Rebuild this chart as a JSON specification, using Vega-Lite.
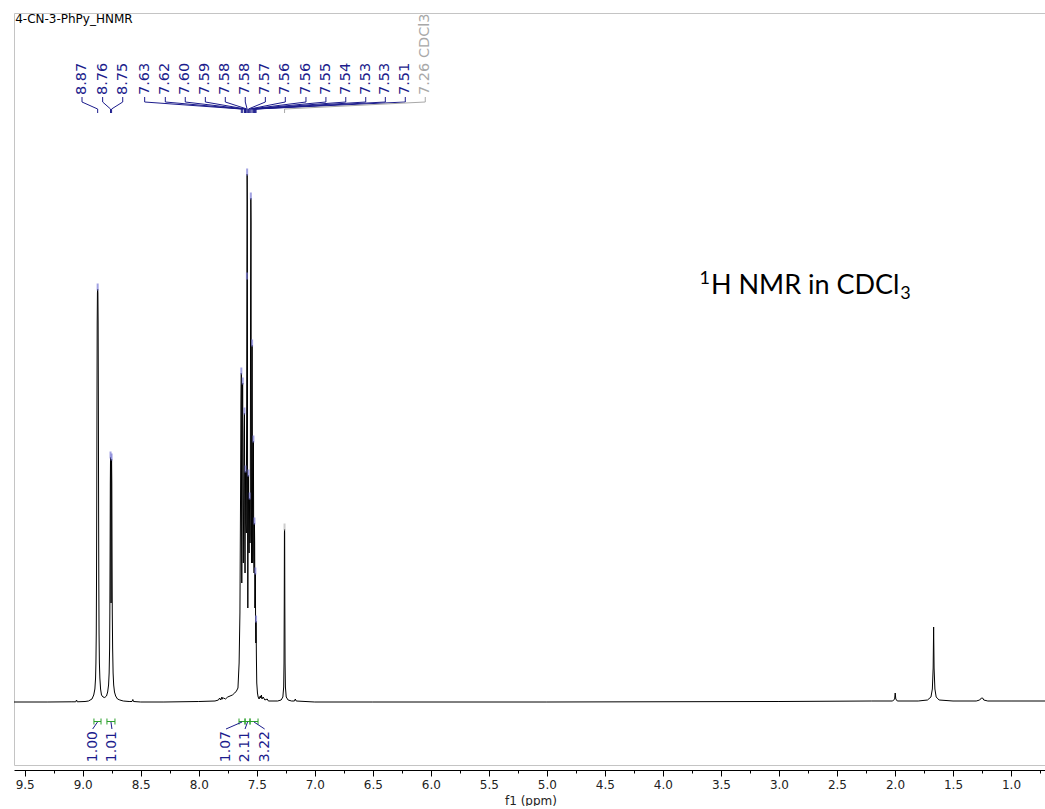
{
  "$schema": "https://vega.github.io/schema/vega-lite/v6.json",
  "width": 1033,
  "height": 752,
  "padding": {"left": 12, "top": 12, "right": 0, "bottom": 0},
  "autosize": {"type": "pad"},
  "background": "white",
  "config": {"view": {"stroke": "#c4c4c4", "strokeWidth": 1}, "font": "DejaVu Sans"},
  "resolve": {"axis": {"x": "independent"}},
  "datasets": {
    "spectrum": [
      {"ppm": 9.592, "i": 1}, {"ppm": 9.3, "i": 1}, {"ppm": 9.1, "i": 1.2}, {"ppm": 9.06, "i": 1.2}, {"ppm": 9.053, "i": 3}, {"ppm": 9.047, "i": 1.2},
      {"ppm": 8.98, "i": 1.5}, {"ppm": 8.95, "i": 2}, {"ppm": 8.92, "i": 4}, {"ppm": 8.905, "i": 8}, {"ppm": 8.895, "i": 14}, {"ppm": 8.889, "i": 25},
      {"ppm": 8.886, "i": 40}, {"ppm": 8.883, "i": 70}, {"ppm": 8.881, "i": 120}, {"ppm": 8.879, "i": 200}, {"ppm": 8.877, "i": 300}, {"ppm": 8.875, "i": 380},
      {"ppm": 8.873, "i": 410}, {"ppm": 8.871, "i": 414}, {"ppm": 8.869, "i": 410}, {"ppm": 8.867, "i": 380}, {"ppm": 8.865, "i": 300}, {"ppm": 8.863, "i": 200},
      {"ppm": 8.861, "i": 120}, {"ppm": 8.859, "i": 70}, {"ppm": 8.856, "i": 40}, {"ppm": 8.852, "i": 25}, {"ppm": 8.846, "i": 14}, {"ppm": 8.838, "i": 8},
      {"ppm": 8.825, "i": 6}, {"ppm": 8.81, "i": 5.5}, {"ppm": 8.795, "i": 7}, {"ppm": 8.785, "i": 11}, {"ppm": 8.777, "i": 18}, {"ppm": 8.772, "i": 30},
      {"ppm": 8.768, "i": 55}, {"ppm": 8.766, "i": 90}, {"ppm": 8.764, "i": 150}, {"ppm": 8.762, "i": 220}, {"ppm": 8.760, "i": 246}, {"ppm": 8.758, "i": 230},
      {"ppm": 8.7555, "i": 100}, {"ppm": 8.753, "i": 230}, {"ppm": 8.751, "i": 244}, {"ppm": 8.749, "i": 220}, {"ppm": 8.747, "i": 150}, {"ppm": 8.745, "i": 90},
      {"ppm": 8.742, "i": 55}, {"ppm": 8.738, "i": 30}, {"ppm": 8.733, "i": 18}, {"ppm": 8.726, "i": 11}, {"ppm": 8.716, "i": 7}, {"ppm": 8.70, "i": 4},
      {"ppm": 8.68, "i": 3}, {"ppm": 8.65, "i": 2}, {"ppm": 8.60, "i": 1.5}, {"ppm": 8.575, "i": 1.5}, {"ppm": 8.568, "i": 3.5}, {"ppm": 8.562, "i": 1.5},
      {"ppm": 8.5, "i": 1}, {"ppm": 8.3, "i": 1}, {"ppm": 8.0, "i": 1.5}, {"ppm": 7.86, "i": 2}, {"ppm": 7.83, "i": 3}, {"ppm": 7.82, "i": 5},
      {"ppm": 7.81, "i": 3}, {"ppm": 7.80, "i": 6}, {"ppm": 7.795, "i": 4}, {"ppm": 7.785, "i": 5}, {"ppm": 7.77, "i": 4}, {"ppm": 7.75, "i": 6},
      {"ppm": 7.73, "i": 7}, {"ppm": 7.71, "i": 8}, {"ppm": 7.69, "i": 10}, {"ppm": 7.675, "i": 12}, {"ppm": 7.662, "i": 15}, {"ppm": 7.652, "i": 40},
      {"ppm": 7.645, "i": 90}, {"ppm": 7.640, "i": 200}, {"ppm": 7.636, "i": 300}, {"ppm": 7.633, "i": 330}, {"ppm": 7.631, "i": 200}, {"ppm": 7.629, "i": 120},
      {"ppm": 7.626, "i": 250}, {"ppm": 7.623, "i": 318}, {"ppm": 7.621, "i": 320}, {"ppm": 7.619, "i": 200}, {"ppm": 7.616, "i": 140}, {"ppm": 7.613, "i": 200},
      {"ppm": 7.609, "i": 270}, {"ppm": 7.606, "i": 290}, {"ppm": 7.603, "i": 160}, {"ppm": 7.601, "i": 130}, {"ppm": 7.599, "i": 200}, {"ppm": 7.597, "i": 232},
      {"ppm": 7.594, "i": 180}, {"ppm": 7.590, "i": 170}, {"ppm": 7.587, "i": 300}, {"ppm": 7.585, "i": 425}, {"ppm": 7.583, "i": 529}, {"ppm": 7.581, "i": 500},
      {"ppm": 7.579, "i": 180}, {"ppm": 7.577, "i": 95}, {"ppm": 7.575, "i": 160}, {"ppm": 7.572, "i": 228}, {"ppm": 7.569, "i": 170}, {"ppm": 7.566, "i": 150},
      {"ppm": 7.563, "i": 190}, {"ppm": 7.561, "i": 205}, {"ppm": 7.558, "i": 160}, {"ppm": 7.556, "i": 170}, {"ppm": 7.553, "i": 420}, {"ppm": 7.551, "i": 505},
      {"ppm": 7.549, "i": 480}, {"ppm": 7.547, "i": 200}, {"ppm": 7.545, "i": 140}, {"ppm": 7.542, "i": 300}, {"ppm": 7.540, "i": 358}, {"ppm": 7.538, "i": 260},
      {"ppm": 7.535, "i": 140}, {"ppm": 7.532, "i": 220}, {"ppm": 7.529, "i": 262}, {"ppm": 7.526, "i": 150}, {"ppm": 7.523, "i": 130}, {"ppm": 7.520, "i": 180},
      {"ppm": 7.518, "i": 160}, {"ppm": 7.516, "i": 95}, {"ppm": 7.514, "i": 110}, {"ppm": 7.512, "i": 130}, {"ppm": 7.510, "i": 80}, {"ppm": 7.508, "i": 60},
      {"ppm": 7.506, "i": 82}, {"ppm": 7.503, "i": 45}, {"ppm": 7.500, "i": 20}, {"ppm": 7.494, "i": 10}, {"ppm": 7.488, "i": 6}, {"ppm": 7.48, "i": 4},
      {"ppm": 7.47, "i": 7}, {"ppm": 7.465, "i": 5}, {"ppm": 7.46, "i": 8}, {"ppm": 7.455, "i": 4}, {"ppm": 7.445, "i": 6}, {"ppm": 7.43, "i": 3},
      {"ppm": 7.41, "i": 4}, {"ppm": 7.40, "i": 2}, {"ppm": 7.36, "i": 2}, {"ppm": 7.32, "i": 2}, {"ppm": 7.29, "i": 3}, {"ppm": 7.275, "i": 6},
      {"ppm": 7.268, "i": 16}, {"ppm": 7.265, "i": 40}, {"ppm": 7.263, "i": 100}, {"ppm": 7.2615, "i": 170}, {"ppm": 7.2605, "i": 174}, {"ppm": 7.2595, "i": 170},
      {"ppm": 7.258, "i": 100}, {"ppm": 7.256, "i": 40}, {"ppm": 7.253, "i": 16}, {"ppm": 7.246, "i": 6}, {"ppm": 7.23, "i": 3}, {"ppm": 7.20, "i": 2},
      {"ppm": 7.175, "i": 2}, {"ppm": 7.168, "i": 4}, {"ppm": 7.16, "i": 2}, {"ppm": 7.0, "i": 1}, {"ppm": 6.5, "i": 1}, {"ppm": 5.0, "i": 1},
      {"ppm": 3.0, "i": 1.5}, {"ppm": 2.2, "i": 2}, {"ppm": 2.02, "i": 2}, {"ppm": 2.003, "i": 4}, {"ppm": 1.998, "i": 10}, {"ppm": 1.993, "i": 4},
      {"ppm": 1.98, "i": 2}, {"ppm": 1.8, "i": 2}, {"ppm": 1.72, "i": 3}, {"ppm": 1.69, "i": 6}, {"ppm": 1.678, "i": 14}, {"ppm": 1.671, "i": 35},
      {"ppm": 1.667, "i": 76}, {"ppm": 1.663, "i": 35}, {"ppm": 1.656, "i": 14}, {"ppm": 1.645, "i": 6}, {"ppm": 1.62, "i": 3}, {"ppm": 1.5, "i": 2},
      {"ppm": 1.3, "i": 2}, {"ppm": 1.27, "i": 3}, {"ppm": 1.255, "i": 5}, {"ppm": 1.245, "i": 5}, {"ppm": 1.235, "i": 3}, {"ppm": 1.2, "i": 2},
      {"ppm": 1.0, "i": 2}, {"ppm": 0.69, "i": 2}
    ],
    "peaks": [
      {"lab": 9.006, "pk": 8.871, "h": 414, "txt": "8.87", "kind": "peak"},
      {"lab": 8.828, "pk": 8.760, "h": 246, "txt": "8.76", "kind": "peak"},
      {"lab": 8.655, "pk": 8.751, "h": 244, "txt": "8.75", "kind": "peak"},
      {"lab": 8.466, "pk": 7.633, "h": 330, "txt": "7.63", "kind": "peak"},
      {"lab": 8.288, "pk": 7.621, "h": 320, "txt": "7.62", "kind": "peak"},
      {"lab": 8.116, "pk": 7.606, "h": 290, "txt": "7.60", "kind": "peak"},
      {"lab": 7.943, "pk": 7.597, "h": 232, "txt": "7.59", "kind": "peak"},
      {"lab": 7.771, "pk": 7.585, "h": 425, "txt": "7.58", "kind": "peak"},
      {"lab": 7.599, "pk": 7.583, "h": 529, "txt": "7.58", "kind": "peak"},
      {"lab": 7.426, "pk": 7.572, "h": 228, "txt": "7.57", "kind": "peak"},
      {"lab": 7.254, "pk": 7.561, "h": 205, "txt": "7.56", "kind": "peak"},
      {"lab": 7.076, "pk": 7.551, "h": 505, "txt": "7.56", "kind": "peak"},
      {"lab": 6.904, "pk": 7.540, "h": 358, "txt": "7.55", "kind": "peak"},
      {"lab": 6.733, "pk": 7.529, "h": 262, "txt": "7.54", "kind": "peak"},
      {"lab": 6.561, "pk": 7.520, "h": 180, "txt": "7.53", "kind": "peak"},
      {"lab": 6.392, "pk": 7.512, "h": 130, "txt": "7.53", "kind": "peak"},
      {"lab": 6.220, "pk": 7.506, "h": 82, "txt": "7.51", "kind": "peak"},
      {"lab": 6.048, "pk": 7.2605, "h": 174, "txt": "7.26 CDCl3", "kind": "solvent"}
    ],
    "integrals": [
      {"s": 8.903, "e": 8.842, "mid": 8.8725, "lab": 8.914, "txt": "1.00"},
      {"s": 8.791, "e": 8.722, "mid": 8.7565, "lab": 8.748, "txt": "1.01"},
      {"s": 7.653, "e": 7.601, "mid": 7.627, "lab": 7.765, "txt": "1.07"},
      {"s": 7.601, "e": 7.558, "mid": 7.5795, "lab": 7.601, "txt": "2.11"},
      {"s": 7.558, "e": 7.489, "mid": 7.5235, "lab": 7.432, "txt": "3.22"}
    ]
  },
  "layer": [
    {
      "data": {"name": "spectrum"},
      "mark": {"type": "line", "color": "black", "strokeWidth": 1},
      "encoding": {
        "x": {
          "field": "ppm", "type": "quantitative",
          "scale": {"domain": [0.69, 9.592], "reverse": true, "nice": false, "zero": false},
          "axis": {
            "orient": "bottom",
            "title": "f1 (ppm)",
            "values": [9.5, 9.0, 8.5, 8.0, 7.5, 7.0, 6.5, 6.0, 5.5, 5.0, 4.5, 4.0, 3.5, 3.0, 2.5, 2.0, 1.5, 1.0],
            "format": ".1f",
            "tickSize": 6,
            "offset": 5,
            "grid": false,
            "domainColor": "black",
            "tickColor": "black",
            "labelColor": "#222222",
            "labelFont": "DejaVu Sans",
            "labelFontSize": 12,
            "labelPadding": 3,
            "labelOverlap": false,
            "labelFlush": false,
            "labelBound": false,
            "titleFont": "DejaVu Sans",
            "titleFontSize": 12,
            "titleFontWeight": "normal",
            "titleColor": "#222222",
            "titlePadding": 5
          }
        },
        "y": {"field": "i", "type": "quantitative", "scale": {"domain": [-62, 690], "nice": false, "zero": false}, "axis": null}
      }
    },
    {
      "data": {"name": "peaks"},
      "mark": {"type": "tick", "orient": "vertical", "size": 7, "thickness": 2, "yOffset": -2},
      "encoding": {
        "x": {
          "field": "pk", "type": "quantitative",
          "axis": {
            "orient": "bottom",
            "title": null,
            "values": [9.25, 8.75, 8.25, 7.75, 7.25, 6.75, 6.25, 5.75, 5.25, 4.75, 4.25, 3.75, 3.25, 2.75, 2.25, 1.75, 1.25, 0.75],
            "labels": false,
            "domain": false,
            "grid": false,
            "tickSize": 3,
            "tickColor": "black",
            "offset": 5
          }
        },
        "y": {"field": "h", "type": "quantitative"},
        "color": {"condition": {"test": "datum.kind == 'solvent'", "value": "#b8b8b8"}, "value": "#7b7bd6"}
      }
    },
    {
      "data": {"name": "peaks"},
      "mark": {"type": "rule", "strokeWidth": 1},
      "encoding": {
        "x": {"field": "lab", "type": "quantitative", "axis": null},
        "y": {"datum": 606, "type": "quantitative"},
        "y2": {"datum": 601},
        "color": {"condition": {"test": "datum.kind == 'solvent'", "value": "#a8a8a8"}, "value": "#1c1c8c"}
      }
    },
    {
      "data": {"name": "peaks"},
      "mark": {"type": "rule", "strokeWidth": 1},
      "encoding": {
        "x": {"field": "lab", "type": "quantitative", "axis": null},
        "x2": {"field": "pk"},
        "y": {"datum": 601, "type": "quantitative"},
        "y2": {"datum": 594},
        "color": {"condition": {"test": "datum.kind == 'solvent'", "value": "#a8a8a8"}, "value": "#1c1c8c"}
      }
    },
    {
      "data": {"name": "peaks"},
      "mark": {"type": "rule", "strokeWidth": 1},
      "encoding": {
        "x": {"field": "pk", "type": "quantitative", "axis": null},
        "y": {"datum": 594, "type": "quantitative"},
        "y2": {"datum": 590},
        "color": {"condition": {"test": "datum.kind == 'solvent'", "value": "#a8a8a8"}, "value": "#1c1c8c"}
      }
    },
    {
      "data": {"name": "peaks"},
      "mark": {"type": "text", "angle": 270, "align": "left", "baseline": "middle", "font": "DejaVu Sans", "fontSize": 14.5},
      "encoding": {
        "x": {"field": "lab", "type": "quantitative", "axis": null},
        "y": {"datum": 608, "type": "quantitative"},
        "text": {"field": "txt"},
        "color": {"condition": {"test": "datum.kind == 'solvent'", "value": "#a8a8a8"}, "value": "#1c1c8c"}
      }
    },
    {
      "data": {"name": "integrals"},
      "mark": {"type": "rule", "color": "#2ca02c", "strokeWidth": 1},
      "encoding": {
        "x": {"field": "s", "type": "quantitative", "axis": null},
        "x2": {"field": "e"},
        "y": {"datum": -18.5, "type": "quantitative"}
      }
    },
    {
      "data": {"name": "integrals"},
      "mark": {"type": "rule", "color": "#2ca02c", "strokeWidth": 1},
      "encoding": {
        "x": {"field": "s", "type": "quantitative", "axis": null},
        "y": {"datum": -15.5, "type": "quantitative"},
        "y2": {"datum": -21.5}
      }
    },
    {
      "data": {"name": "integrals"},
      "mark": {"type": "rule", "color": "#2ca02c", "strokeWidth": 1},
      "encoding": {
        "x": {"field": "e", "type": "quantitative", "axis": null},
        "y": {"datum": -15.5, "type": "quantitative"},
        "y2": {"datum": -21.5}
      }
    },
    {
      "data": {"name": "integrals"},
      "mark": {"type": "rule", "color": "#1c1c8c", "strokeWidth": 1},
      "encoding": {
        "x": {"field": "mid", "type": "quantitative", "axis": null},
        "x2": {"field": "lab"},
        "y": {"datum": -19, "type": "quantitative"},
        "y2": {"datum": -26}
      }
    },
    {
      "data": {"name": "integrals"},
      "mark": {"type": "text", "angle": 270, "align": "right", "baseline": "middle", "font": "DejaVu Sans", "fontSize": 14, "color": "#1c1c8c"},
      "encoding": {
        "x": {"field": "lab", "type": "quantitative", "axis": null},
        "y": {"datum": -28, "type": "quantitative"},
        "text": {"field": "txt"}
      }
    },
    {
      "data": {"values": [{"txt": "H NMR in CDCl"}]},
      "mark": {"type": "text", "align": "left", "baseline": "alphabetic", "font": "Lato", "fontSize": 27, "color": "black"},
      "encoding": {
        "x": {"datum": 3.586, "type": "quantitative", "axis": null},
        "y": {"datum": 409, "type": "quantitative"},
        "text": {"field": "txt"}
      }
    },
    {
      "data": {"values": [{"txt": "1"}]},
      "mark": {"type": "text", "align": "right", "baseline": "alphabetic", "font": "Lato", "fontSize": 18, "color": "black"},
      "encoding": {
        "x": {"datum": 3.594, "type": "quantitative", "axis": null},
        "y": {"datum": 419, "type": "quantitative"},
        "text": {"field": "txt"}
      }
    },
    {
      "data": {"values": [{"txt": "3"}]},
      "mark": {"type": "text", "align": "left", "baseline": "alphabetic", "font": "Lato", "fontSize": 18, "color": "black"},
      "encoding": {
        "x": {"datum": 1.955, "type": "quantitative", "axis": null},
        "y": {"datum": 404, "type": "quantitative"},
        "text": {"field": "txt"}
      }
    },
    {
      "data": {"values": [{"txt": "4-CN-3-PhPy_HNMR"}]},
      "mark": {"type": "text", "align": "left", "baseline": "top", "font": "DejaVu Sans", "fontSize": 12, "color": "black"},
      "encoding": {
        "x": {"datum": 9.582, "type": "quantitative", "axis": null},
        "y": {"datum": 689, "type": "quantitative"},
        "text": {"field": "txt"}
      }
    }
  ]
}
